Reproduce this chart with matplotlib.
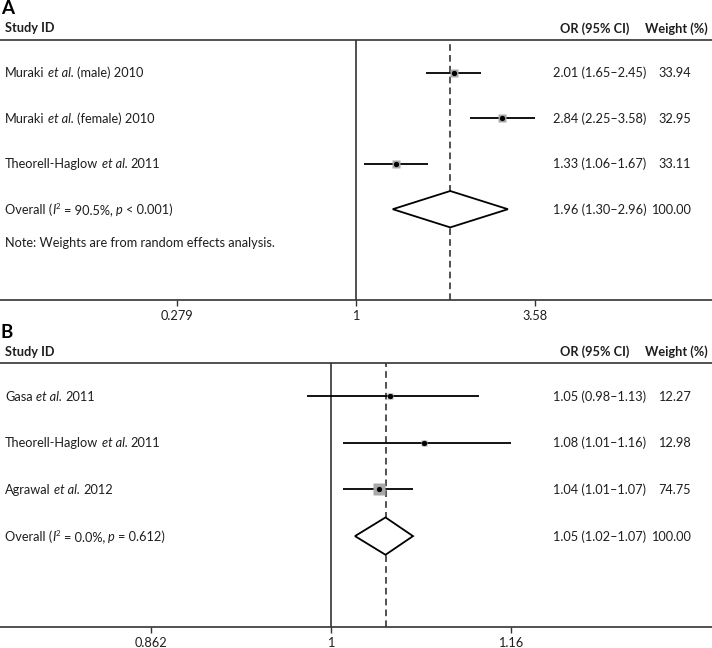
import re
import numpy as np
import matplotlib
matplotlib.use("Agg")
import matplotlib.pyplot as plt
from matplotlib.transforms import offset_copy

# Panel A data  (*...* = italic, ^...^ = superscript)
studies_a = ["Muraki *et al.* (male) 2010",
             "Muraki *et al.* (female) 2010",
             "Theorell-Haglow *et al.* 2011"]
or_a = [2.01, 2.84, 1.33]
lo_a = [1.65, 2.25, 1.06]
hi_a = [2.45, 3.58, 1.67]
wt_a = [33.94, 32.95, 33.11]
pooled_a = [1.96, 1.30, 2.96]
overall_a = "Overall (*I*^2^ = 90.5%, *p* < 0.001)"
ticks_a = [0.279, 1, 3.58]
tick_labels_a = ["0.279", "1", "3.58"]

# Panel B data
studies_b = ["Gasa *et al.* 2011",
             "Theorell-Haglow *et al.* 2011",
             "Agrawal *et al.* 2012"]
or_b = [1.05, 1.08, 1.04]
lo_b = [0.98, 1.01, 1.01]
hi_b = [1.13, 1.16, 1.07]
wt_b = [12.27, 12.98, 74.75]
pooled_b = [1.046, 1.02, 1.07]
overall_b = "Overall (*I*^2^ = 0.0%, *p* = 0.612)"
ticks_b = [0.862, 1, 1.16]
tick_labels_b = ["0.862", "1", "1.16"]

note = "Note: Weights are from random effects analysis."

plt.rcParams["font.family"] = ["Lato", "DejaVu Sans"]

W, H = 712, 648
TXT = "#1e1e1e"
FS = 9.2
CAP = 0.7165 * FS * 100 / 72  # cap height in px

fig = plt.figure(figsize=(W / 100, H / 100), dpi=100)
renderer = fig.canvas.get_renderer()


def fx(px):
    return px / W


def fy(py):
    return 1 - py / H


def measure(s, size, style):
    t = fig.text(0, 0, s, fontsize=size, style=style)
    w = t.get_window_extent(renderer).width
    t.remove()
    return w


def rich(ax, x_px, y, markup):
    # draw a label with italic / superscript runs, baseline centred on row y
    tr = ax.get_yaxis_transform()
    cursor = 0.0
    for seg in re.split(r"(\*[^*]+\*|\^[^^]+\^)", markup):
        if not seg:
            continue
        size, style, rise = FS, "normal", 0.0
        if seg.startswith("*"):
            seg, style = seg[1:-1], "italic"
        elif seg.startswith("^"):
            seg, size, rise = seg[1:-1], FS * 0.62, CAP * 0.55
        sw = measure("a a", size, style) - measure("aa", size, style)
        body = seg.strip(" ")
        cursor += sw * (len(seg) - len(seg.lstrip(" ")))
        if body:
            t = offset_copy(tr, fig=fig, x=cursor, y=-CAP / 2 + rise,
                            units="dots")
            ax.text(fx(x_px), y, body, transform=t, fontsize=size,
                    style=style, color=TXT, va="baseline", ha="left")
            cursor += measure(body, size, style)
        cursor += sw * (len(seg) - len(seg.rstrip(" ")))


def cell(ax, x_px, y, s, ha):
    t = offset_copy(ax.get_yaxis_transform(), fig=fig, y=-CAP / 2,
                    units="dots")
    ax.text(fx(x_px), y, s, transform=t, fontsize=FS, color=TXT,
            va="baseline", ha=ha)


def panel(letter, top, bottom, row0, step, xlim, studies, ors, los, his, wts,
          pooled, overall, ticks, tick_labels, box_k, note_text=None):
    ax = fig.add_axes([0, fy(bottom), 1, (bottom - top) / H])
    ax.set_xscale("log")
    ax.set_xlim(*xlim)
    ytop = -(row0 - top) / step
    ax.set_ylim(ytop + (bottom - top) / step, ytop)

    for s in ["left", "right"]:
        ax.spines[s].set_visible(False)
    for s in ["top", "bottom"]:
        ax.spines[s].set_color("#333333")
        ax.spines[s].set_linewidth(1.2)
    ax.set_yticks([])
    ax.set_xticks(ticks)
    ax.set_xticklabels(tick_labels)
    ax.minorticks_off()
    ax.tick_params(axis="x", length=4, width=1, color="#333333",
                   labelsize=FS, labelcolor=TXT, pad=3)

    ax.axvline(1, color="#333333", lw=1.2)
    ax.axvline(pooled[0], color="#333333", lw=1.2, ls=(0, (4, 2.5)))

    for i in range(len(studies)):
        ax.plot([los[i], his[i]], [i, i], color="black", lw=1.3,
                solid_capstyle="butt")
        side = box_k * np.sqrt(wts[i])
        ax.plot(ors[i], i, marker="s", ms=side, color="#a8a8a8", mec="none")
        ax.plot(ors[i], i, marker="o", ms=3.8, color="black", mec="none")
        rich(ax, 5, i, studies[i])
        cell(ax, 553, i, f"{ors[i]:.2f} ({los[i]:.2f}\u2013{his[i]:.2f})",
             "left")
        cell(ax, 691, i, f"{wts[i]:.2f}", "right")

    k = len(studies)
    est, lo, hi = pooled
    ax.fill([lo, est, hi, est, lo], [k, k - 0.4, k, k + 0.4, k],
            facecolor="white", edgecolor="black", lw=1.3, zorder=3)
    rich(ax, 5, k, overall)
    cell(ax, 553, k, f"{est:.2f} ({lo:.2f}\u2013{hi:.2f})", "left")
    cell(ax, 691, k, f"{sum(wts):.2f}", "right")
    if note_text:
        cell(ax, 5, k + 0.72, note_text, "left")

    # headers and panel letter
    fig.text(fx(1), fy(top - 25.5), letter, fontsize=13.5, fontweight="bold",
             color="black", va="baseline", ha="left")
    hy = fy(top - 7.5)
    fig.text(fx(5), hy, "Study ID", fontsize=FS, fontweight="bold",
             color=TXT, va="baseline", ha="left")
    fig.text(fx(595), hy, "OR (95% CI)", fontsize=FS, fontweight="bold",
             color=TXT, va="baseline", ha="center")
    fig.text(fx(676), hy, "Weight (%)", fontsize=FS, fontweight="bold",
             color=TXT, va="baseline", ha="center")
    return ax


# x limits so that 1 sits at the observed pixel position
xlim_a = (np.exp(-356 / 140), np.exp((W - 356) / 140))
xlim_b = (np.exp(-331 / 1212), np.exp((W - 331) / 1212))

panel("A", 40, 300, 72.7, 45.5, xlim_a, studies_a, or_a, lo_a, hi_a, wt_a,
      pooled_a, overall_a, ticks_a, tick_labels_a, 0.9, note)
panel("B", 363, 627, 396, 46.7, xlim_b, studies_b, or_b, lo_b, hi_b, wt_b,
      pooled_b, overall_b, ticks_b, tick_labels_b, 1.08)

fig.savefig("out.png", dpi=100)
